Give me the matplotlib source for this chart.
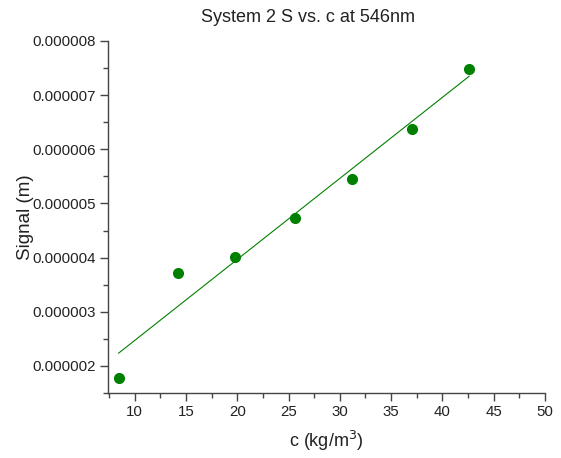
import numpy as np
import matplotlib.pyplot as plt
from matplotlib.ticker import MultipleLocator, FormatStrFormatter

plt.rcParams['font.family'] = ['Liberation Sans', 'DejaVu Sans']

# data
conc = [8.44, 14.2, 19.76, 25.6, 31.2, 37.0, 42.6]
signal = [1.78e-6, 3.72e-6, 4.02e-6, 4.73e-6, 5.46e-6, 6.37e-6, 7.49e-6]

fig = plt.figure(figsize=(5.61, 4.58), dpi=100)
ax = fig.add_axes([0.1925, 0.142, 0.779, 0.7685])

# linear fit
slope, intercept = np.polyfit(conc, signal, 1)
xfit = np.array([min(conc), max(conc)])
ax.plot(xfit, slope * xfit + intercept, color='#008000', lw=0.8)
ax.plot(conc, signal, 'o', color='#008000', ms=7, mec='#008000')

ax.set_xlim(7.4, 50)
ax.set_ylim(1.5e-6, 8e-6)
ax.xaxis.set_major_locator(MultipleLocator(5))
ax.xaxis.set_minor_locator(MultipleLocator(2.5))
ax.yaxis.set_major_locator(MultipleLocator(1e-6))
ax.yaxis.set_minor_locator(MultipleLocator(0.5e-6))
ax.yaxis.set_major_formatter(FormatStrFormatter('%.6f'))
ax.yaxis.get_offset_text().set_visible(False)

for s in ['top', 'right']:
    ax.spines[s].set_visible(False)
for s in ['left', 'bottom']:
    ax.spines[s].set_color('#444444')
    ax.spines[s].set_linewidth(1.0)

ax.tick_params(which='major', direction='out', length=6, width=1, color='#444444',
               labelsize=10.8, labelcolor='#222222', pad=2.5)
ax.tick_params(which='minor', direction='out', length=3.5, width=1, color='#444444')

ax.set_xlabel('c (kg/m$^3$)', fontsize=13, color='#222222', labelpad=7)
ax.set_ylabel('Signal (m)', fontsize=13.5, color='#222222', labelpad=-1)
ax.set_title('System 2 S vs. c at 546nm', fontsize=13, color='#222222', pad=14, x=0.458)

fig.savefig('out.png', dpi=100)
